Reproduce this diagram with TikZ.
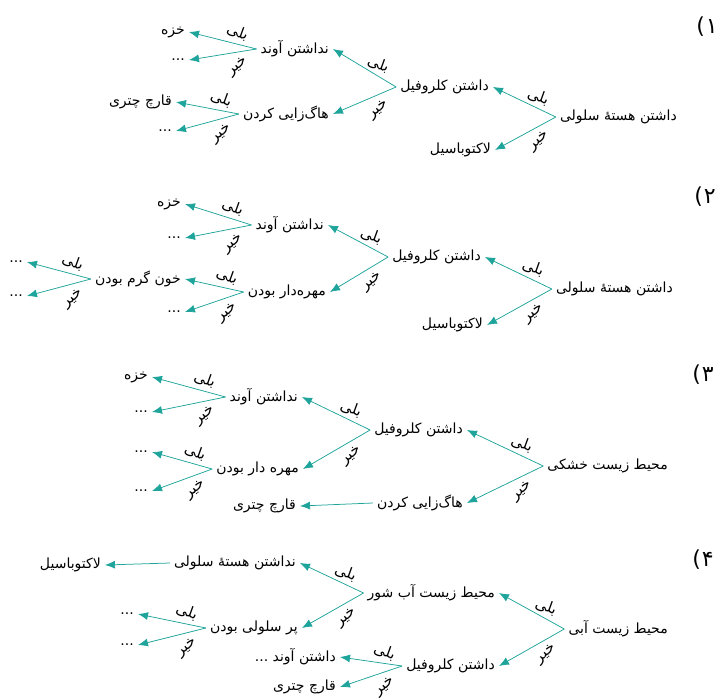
\documentclass[tikz,border=0pt]{standalone}
\usepackage{fontspec}
\usetikzlibrary{arrows.meta}
\newfontfamily\farsi[Script=Arabic]{DejaVu Sans}
\newfontfamily\plainsans{DejaVu Sans}
\TeXXeTstate=1
\newcommand\fa[1]{\beginR #1\endR}
\newcommand\itemno[1]{\hbox{(}\kern1pt\hbox{#1}}
\definecolor{my-teal}{RGB}{30,164,154}
\tikzset{
  txt/.style={font=\farsi\fontsize{14}{16}\selectfont, inner xsep=4pt, inner ysep=2pt, anchor=east},
  branch/.style={draw=my-teal, line width=0.75pt, -{Latex[length=10pt,width=8pt]}},
  yes/.style={font=\farsi\fontsize{15}{17}\selectfont, pos=0.28, yshift=12pt, rotate=-20, inner sep=0pt},
  no/.style={font=\farsi\fontsize{15}{17}\selectfont, pos=0.28, yshift=-15pt, rotate=40, inner sep=0pt},
  num/.style={font=\plainsans\fontsize{22}{24}\selectfont, inner sep=0pt}
}
\begin{document}
\begin{tikzpicture}[x=1pt, y=-1pt]
    \useasboundingbox (0,0) rectangle (728,699);
    % tree 1
    \node[num] (n1) at (707,27) {\itemno{۱}};
    \node[txt] (r1) at (681,117) {\fa{داشتن هستهٔ سلولی}};
    \node[txt] (a1) at (493,87) {\fa{داشتن کلروفیل}};
    \node[txt] (b1) at (495,150) {\fa{لاکتوباسیل}};
    \node[txt] (c1) at (333,49) {\fa{نداشتن آوند}};
    \node[txt] (d1) at (333,114) {\fa{هاگ‌زایی کردن}};
    \node[txt] (e1) at (189,32) {\fa{خزه}};
    \node[txt] (f1) at (189,60) {...};
    \node[txt] (g1) at (176,102) {\fa{قارچ چتری}};
    \node[txt] (h1) at (176,131) {...};
    \draw[branch] (r1.west) -- node[yes] {\fa{بلی}} (a1.east);
    \draw[branch] (r1.west) -- node[no] {\fa{خیر}} (b1.east);
    \draw[branch] (a1.west) -- node[yes] {\fa{بلی}} (c1.east);
    \draw[branch] (a1.west) -- node[no] {\fa{خیر}} (d1.east);
    \draw[branch] (c1.west) -- node[yes] {\fa{بلی}} (e1.east);
    \draw[branch] (c1.west) -- node[no] {\fa{خیر}} (f1.east);
    \draw[branch] (d1.west) -- node[yes] {\fa{بلی}} (g1.east);
    \draw[branch] (d1.west) -- node[no] {\fa{خیر}} (h1.east);
    % tree 2
    \node[num] (n2) at (705,197) {\itemno{۲}};
    \node[txt] (r2) at (677,289) {\fa{داشتن هستهٔ سلولی}};
    \node[txt] (a2) at (485,257) {\fa{داشتن کلروفیل}};
    \node[txt] (b2) at (487,325) {\fa{لاکتوباسیل}};
    \node[txt] (c2) at (328,225) {\fa{نداشتن آوند}};
    \node[txt] (d2) at (330,292) {\fa{مهره‌دار بودن}};
    \node[txt] (e2) at (185,204) {\fa{خزه}};
    \node[txt] (f2) at (185,238) {...};
    \node[txt] (g2) at (185,279) {\fa{خون گرم بودن}};
    \node[txt] (h2) at (185,312) {...};
    \node[txt] (i2) at (27,262) {...};
    \node[txt] (j2) at (27,296) {...};
    \draw[branch] (r2.west) -- node[yes] {\fa{بلی}} (a2.east);
    \draw[branch] (r2.west) -- node[no] {\fa{خیر}} (b2.east);
    \draw[branch] (a2.west) -- node[yes] {\fa{بلی}} (c2.east);
    \draw[branch] (a2.west) -- node[no] {\fa{خیر}} (d2.east);
    \draw[branch] (c2.west) -- node[yes] {\fa{بلی}} (e2.east);
    \draw[branch] (c2.west) -- node[no] {\fa{خیر}} (f2.east);
    \draw[branch] (d2.west) -- node[yes] {\fa{بلی}} (g2.east);
    \draw[branch] (d2.west) -- node[no] {\fa{خیر}} (h2.east);
    \draw[branch] (g2.west) -- node[yes] {\fa{بلی}} (i2.east);
    \draw[branch] (g2.west) -- node[no] {\fa{خیر}} (j2.east);
    % tree 3
    \node[num] (n3) at (703,375) {\itemno{۳}};
    \node[txt] (r3) at (672,466) {\fa{محیط زیست خشکی}};
    \node[txt] (a3) at (467,430) {\fa{داشتن کلروفیل}};
    \node[txt] (b3) at (467,503) {\fa{هاگ‌زایی کردن}};
    \node[txt] (c3) at (302,397) {\fa{نداشتن آوند}};
    \node[txt] (d3) at (303,469) {\fa{مهره دار بودن}};
    \node[txt] (e3) at (300,506) {\fa{قارچ چتری}};
    \node[txt] (f3) at (152,377) {\fa{خزه}};
    \node[txt] (g3) at (152,412) {...};
    \node[txt] (h3) at (152,452) {...};
    \node[txt] (i3) at (152,491) {...};
    \draw[branch] (r3.west) -- node[yes] {\fa{بلی}} (a3.east);
    \draw[branch] (r3.west) -- node[no] {\fa{خیر}} (b3.east);
    \draw[branch] (a3.west) -- node[yes] {\fa{بلی}} (c3.east);
    \draw[branch] (a3.west) -- node[no] {\fa{خیر}} (d3.east);
    \draw[branch] (b3.west) -- (e3.east);
    \draw[branch] (c3.west) -- node[yes] {\fa{بلی}} (f3.east);
    \draw[branch] (c3.west) -- node[no] {\fa{خیر}} (g3.east);
    \draw[branch] (d3.west) -- node[yes] {\fa{بلی}} (h3.east);
    \draw[branch] (d3.west) -- node[no] {\fa{خیر}} (i3.east);
    % tree 4
    \node[num] (n4) at (703,560) {\itemno{۴}};
    \node[txt] (r4) at (672,629) {\fa{محیط زیست آبی}};
    \node[txt] (a4) at (499,593) {\fa{محیط زیست آب شور}};
    \node[txt] (b4) at (499,666) {\fa{داشتن کلروفیل}};
    \node[txt] (c4) at (300,563) {\fa{نداشتن هستهٔ سلولی}};
    \node[txt] (d4) at (302,628) {\fa{پر سلولی بودن}};
    \node[txt] (e4) at (105,565) {\fa{لاکتوباسیل}};
    \node[txt] (f4) at (340,657) {\fa{داشتن آوند ...}};
    \node[txt] (g4) at (340,687) {\fa{قارچ چتری}};
    \node[txt] (h4) at (138,614) {...};
    \node[txt] (i4) at (138,645) {...};
    \draw[branch] (r4.west) -- node[yes] {\fa{بلی}} (a4.east);
    \draw[branch] (r4.west) -- node[no] {\fa{خیر}} (b4.east);
    \draw[branch] (a4.west) -- node[yes] {\fa{بلی}} (c4.east);
    \draw[branch] (a4.west) -- node[no] {\fa{خیر}} (d4.east);
    \draw[branch] (c4.west) -- (e4.east);
    \draw[branch] (b4.west) -- node[yes] {\fa{بلی}} (f4.east);
    \draw[branch] (b4.west) -- node[no] {\fa{خیر}} (g4.east);
    \draw[branch] (d4.west) -- node[yes] {\fa{بلی}} (h4.east);
    \draw[branch] (d4.west) -- node[no] {\fa{خیر}} (i4.east);
\end{tikzpicture}
\end{document}
